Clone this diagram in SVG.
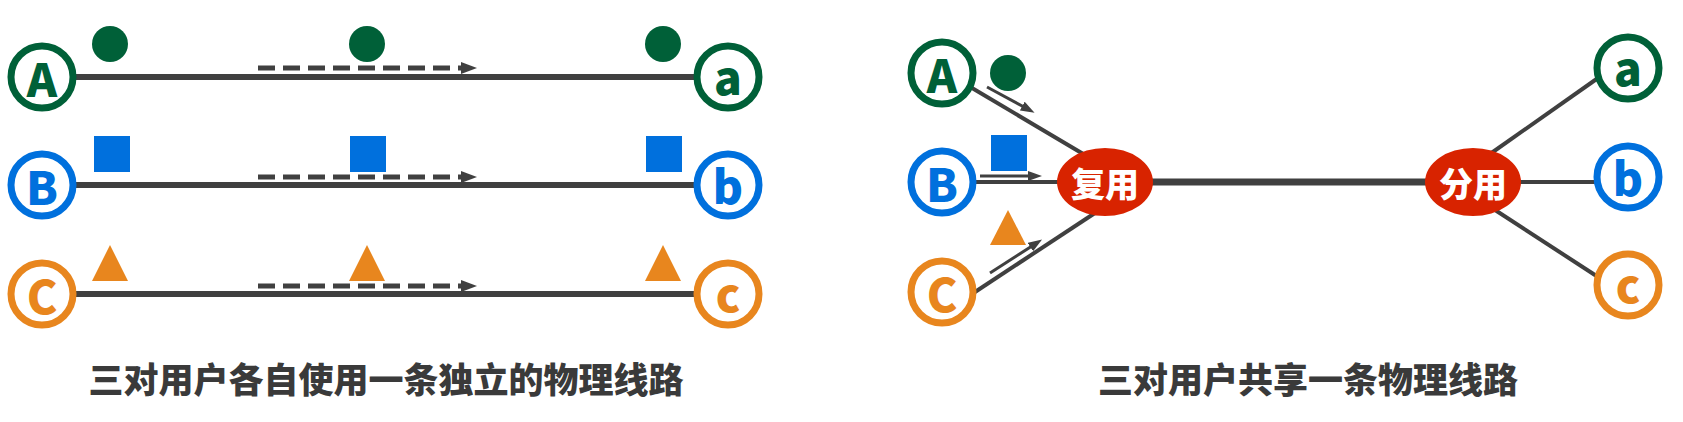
<svg xmlns="http://www.w3.org/2000/svg" width="1683" height="422" viewBox="0 0 1683 422">
<style>
.ring{fill:#fff;stroke-width:7}
.g{stroke:#006038}.b{stroke:#0070DD}.o{stroke:#E8861E}
.lt{font-family:"Noto Sans CJK SC","Noto Sans",sans-serif;font-weight:900;font-size:46px;text-anchor:middle;dominant-baseline:central}
.tg{fill:#006038}.tb{fill:#0070DD}.to{fill:#E8861E}
.wire{stroke:#404040;fill:none}
.dash{stroke:#404040;stroke-width:5;stroke-dasharray:17 8;fill:none}
.cap{font-family:"Noto Sans CJK SC",sans-serif;font-weight:900;font-size:35px;fill:#3a3a3a;text-anchor:middle}
.mux{fill:#D82300}
.mt{font-family:"Noto Sans CJK SC",sans-serif;font-weight:900;font-size:34px;fill:#fff;text-anchor:middle;dominant-baseline:central}
.dot{fill:#006038}.sq{fill:#0070DD}.tri{fill:#E8861E}
</style>
<defs>
<marker id="ah" viewBox="0 0 16 12" markerWidth="16" markerHeight="12" refX="2" refY="6" orient="auto" markerUnits="userSpaceOnUse"><path d="M0,0 L16,6 L0,12 z" fill="#404040"/></marker>
<marker id="ah2" viewBox="0 0 14 10" markerWidth="14" markerHeight="10" refX="2" refY="5" orient="auto" markerUnits="userSpaceOnUse"><path d="M0,0 L14,5 L0,10 z" fill="#404040"/></marker>
</defs>
<rect width="1683" height="422" fill="#fff"/>
<g id="connectors">
<line class="wire" x1="76" y1="77" x2="695" y2="77" stroke-width="6"/>
<line class="wire" x1="76" y1="185" x2="695" y2="185" stroke-width="6"/>
<line class="wire" x1="76" y1="294" x2="695" y2="294" stroke-width="6"/>
<line class="dash" x1="258" y1="68" x2="463" y2="68" marker-end="url(#ah)"/>
<line class="dash" x1="258" y1="177" x2="463" y2="177" marker-end="url(#ah)"/>
<line class="dash" x1="258" y1="286" x2="463" y2="286" marker-end="url(#ah)"/>
<line class="wire" x1="972" y1="88" x2="1090" y2="158" stroke-width="4"/>
<line class="wire" x1="975" y1="182" x2="1070" y2="182" stroke-width="4"/>
<line class="wire" x1="975" y1="292" x2="1098" y2="211" stroke-width="4"/>
<line class="wire" x1="1140" y1="182" x2="1440" y2="182" stroke-width="7"/>
<line class="wire" x1="1490" y1="154" x2="1598" y2="78" stroke-width="4"/>
<line class="wire" x1="1515" y1="182" x2="1597" y2="182" stroke-width="4"/>
<line class="wire" x1="1492" y1="208" x2="1598" y2="277" stroke-width="4"/>
<line class="wire" x1="987" y1="87" x2="1024" y2="107" stroke-width="3" marker-end="url(#ah2)"/>
<line class="wire" x1="980" y1="176" x2="1030" y2="176" stroke-width="3" marker-end="url(#ah2)"/>
<line class="wire" x1="990" y1="273" x2="1032" y2="246" stroke-width="3" marker-end="url(#ah2)"/>
</g>
<g id="left-signals">
<circle class="dot" cx="110" cy="44" r="18"/><circle class="dot" cx="367" cy="44" r="18"/><circle class="dot" cx="663" cy="44" r="18"/>
<rect class="sq" x="94" y="136" width="36" height="36"/><rect class="sq" x="350" y="136" width="36" height="36"/><rect class="sq" x="646" y="136" width="36" height="36"/>
<path class="tri" d="M110,245 L128,281 L92,281 z"/><path class="tri" d="M367,245 L385,281 L349,281 z"/><path class="tri" d="M663,245 L681,281 L645,281 z"/>
</g>
<g id="node-A1"><circle class="ring g" cx="42" cy="77" r="31"/><text class="lt tg" x="42" y="77">A</text></g>
<g id="node-B1"><circle class="ring b" cx="42" cy="185" r="31"/><text class="lt tb" x="42" y="185">B</text></g>
<g id="node-C1"><circle class="ring o" cx="42" cy="294" r="31"/><text class="lt to" x="42" y="294">C</text></g>
<g id="node-a1"><circle class="ring g" cx="728" cy="77" r="31"/><text class="lt tg" x="728" y="75">a</text></g>
<g id="node-b1"><circle class="ring b" cx="728" cy="185" r="31"/><text class="lt tb" x="728" y="184">b</text></g>
<g id="node-c1"><circle class="ring o" cx="728" cy="294" r="31"/><text class="lt to" x="728" y="292">c</text></g>
<g id="right-signals">
<circle class="dot" cx="1008" cy="73" r="18"/>
<rect class="sq" x="991" y="135" width="36" height="36"/>
<path class="tri" d="M1008,210 L1026,245 L990,245 z"/>
</g>
<g id="node-A2"><circle class="ring g" cx="942" cy="73" r="31"/><text class="lt tg" x="942" y="73">A</text></g>
<g id="node-B2"><circle class="ring b" cx="942" cy="182" r="31"/><text class="lt tb" x="942" y="182">B</text></g>
<g id="node-C2"><circle class="ring o" cx="942" cy="292" r="31"/><text class="lt to" x="942" y="292">C</text></g>
<g id="node-mux"><ellipse class="mux" cx="1105" cy="182" rx="48" ry="34"/><text class="mt" x="1105" y="182">复用</text></g>
<g id="node-demux"><ellipse class="mux" cx="1473" cy="182" rx="48" ry="34"/><text class="mt" x="1473" y="182">分用</text></g>
<g id="node-a2"><circle class="ring g" cx="1628" cy="68" r="31"/><text class="lt tg" x="1628" y="66">a</text></g>
<g id="node-b2"><circle class="ring b" cx="1628" cy="177" r="31"/><text class="lt tb" x="1628" y="176">b</text></g>
<g id="node-c2"><circle class="ring o" cx="1628" cy="285" r="31"/><text class="lt to" x="1628" y="283">c</text></g>
<g id="captions">
<text class="cap" x="386" y="393">三对用户各自使用一条独立的物理线路</text>
<text class="cap" x="1308" y="393">三对用户共享一条物理线路</text>
</g>
</svg>
